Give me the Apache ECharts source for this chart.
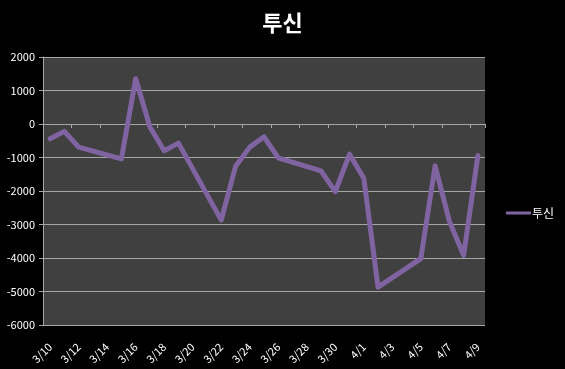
<!DOCTYPE html>
<html>
<head>
<meta charset="utf-8">
<script src="https://cdn.jsdelivr.net/npm/echarts@6/dist/echarts.min.js"></script>
<style>html,body{margin:0;padding:0;background:#000;}#c{width:565px;height:369px;}</style>
</head>
<body>
<div id="c"></div>
<script>
var titleText = '투신';
var seriesName = '투신';
var dates = ['3/10','3/11','3/12','3/13','3/14','3/15','3/16','3/17','3/18','3/19','3/20','3/21','3/22','3/23','3/24','3/25','3/26','3/27','3/28','3/29','3/30','3/31','4/1','4/2','4/3','4/4','4/5','4/6','4/7','4/8','4/9'];
var values = [-440,-220,-690,null,null,-1040,1350,-90,-800,-570,null,null,-2870,-1270,-690,-380,-1010,null,null,-1400,-2020,-900,-1620,-4870,null,null,-4020,-1250,-2900,-3920,-950];
var yTicks = [-6000,-5000,-4000,-3000,-2000,-1000,0,1000,2000];

var font = '"Noto Sans CJK KR", "Noto Sans", sans-serif';
var chart = echarts.init(document.getElementById('c'));
chart.setOption({
  backgroundColor: '#000000',
  animation: false,
  title: {
    text: titleText, left: 'center', top: 7,
    textStyle: {color: '#ffffff', fontSize: 22, fontWeight: 'bold', fontFamily: font}
  },
  legend: {
    data: [seriesName], orient: 'vertical', left: 501, top: 202,
    icon: 'rect', itemWidth: 25, itemHeight: 3, itemGap: 4,
    textStyle: {color: '#ffffff', fontSize: 12, fontFamily: font, padding: [0,0,0,-4]}
  },
  grid: {
    left: 43, right: 80, top: 57, bottom: 44, show: true,
    backgroundColor: '#404040', borderWidth: 0
  },
  xAxis: [{
    type: 'category', data: dates, boundaryGap: true, position: 'bottom',
    axisLine: {show: false, onZero: false},
    axisTick: {show: false},
    splitLine: {show: false},
    axisLabel: {color: '#ffffff', fontSize: 11, fontFamily: font, rotate: 45, interval: 1, margin: 20}
  }, {
    type: 'category', data: dates, boundaryGap: true, position: 'top',
    axisLine: {show: true, onZero: true, lineStyle: {color: '#a6a6a6', width: 1}},
    axisTick: {show: true, inside: true, interval: 1, length: 4, lineStyle: {color: '#a6a6a6'}},
    axisLabel: {show: false},
    splitLine: {show: false}
  }],
  yAxis: {
    type: 'value', min: yTicks[0], max: yTicks[yTicks.length-1], interval: 1000,
    axisLine: {show: true, lineStyle: {color: '#a6a6a6', width: 1}},
    axisTick: {show: true, length: 4, lineStyle: {color: '#a6a6a6'}},
    splitLine: {show: true, lineStyle: {color: '#a6a6a6', width: 1}},
    axisLabel: {color: '#ffffff', fontSize: 11, fontFamily: font, margin: 8, formatter: function(v){ return String(v); }}
  },
  series: [{
    name: seriesName, type: 'line', data: values, connectNulls: true,
    xAxisIndex: 0,
    symbol: 'none', color: '#8064a2',
    lineStyle: {color: '#8064a2', width: 5, cap: 'round', join: 'round'}
  }]
});
</script>
</body>
</html>
